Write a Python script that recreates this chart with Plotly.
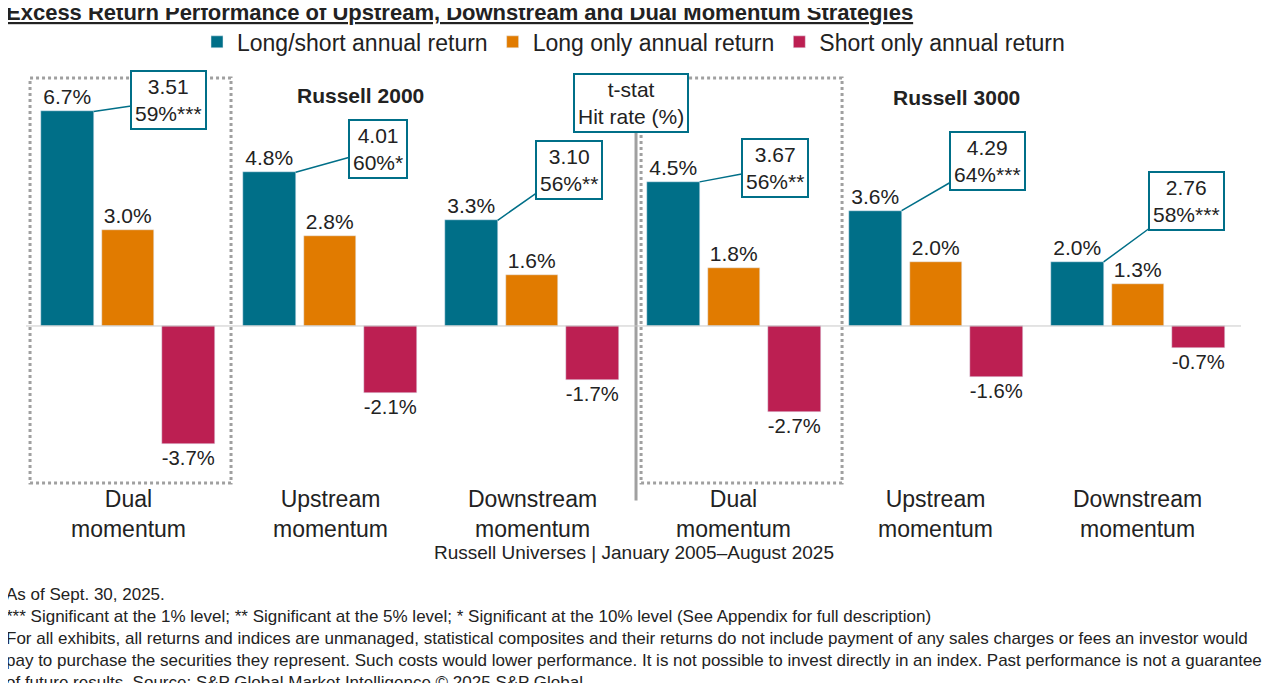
import plotly.graph_objects as go

# === DATA ===
groups = ["Dual<br>momentum", "Upstream<br>momentum", "Downstream<br>momentum",
          "Dual<br>momentum", "Upstream<br>momentum", "Downstream<br>momentum"]
long_short = [6.7, 4.8, 3.3, 4.5, 3.6, 2.0]
long_only = [3.0, 2.8, 1.6, 1.8, 2.0, 1.3]
short_only = [-3.7, -2.1, -1.7, -2.7, -1.6, -0.7]
tstat = ["3.51", "4.01", "3.10", "3.67", "4.29", "2.76"]
hit_rate = ["59%***", "60%*", "56%**", "56%**", "64%***", "58%***"]

TEAL, ORANGE, RED = "#006F88", "#E17B00", "#BC1F52"
FONT = "Liberation Sans"
pos = list(range(len(groups)))

fig = go.Figure()
series = [("Long/short annual return", long_short, TEAL, -0.3),
          ("Long only annual return", long_only, ORANGE, 0.0),
          ("Short only annual return", short_only, RED, 0.3)]
for name, vals, col, off in series:
    fig.add_trace(go.Bar(
        x=[p + off for p in pos], y=vals, width=0.26, name=name, marker_color=col,
        text=[f"{v:.1f}%" for v in vals], textposition="outside",
        textfont=dict(size=21, color="#222"), cliponaxis=False))

ann = []
# t-stat boxes with connector lines
offsets = [(75, -11), (82, -23), (71, -50), (75, -14), (86, -50), (83, -61)]
for p, v, t, h, (ax, ay) in zip(pos, long_short, tstat, hit_rate, offsets):
    ann.append(dict(x=p - 0.17, y=v, ax=ax, ay=ay, text=f"{t}<br>{h}",
                    showarrow=True, arrowhead=0, arrowcolor=TEAL, arrowwidth=1.5,
                    bordercolor=TEAL, borderwidth=2, borderpad=3, bgcolor="white",
                    font=dict(size=21, color="#222"), align="center"))
# category labels
for p, g in zip(pos, groups):
    ann.append(dict(x=p, y=0.01, xref="x", yref="paper", text=g, showarrow=False,
                    yanchor="top", font=dict(size=23, color="#222")))
ann += [
    dict(x=1.15, y=7.2, text="<b>Russell 2000</b>", showarrow=False, font=dict(size=21, color="#222")),
    dict(x=4.1, y=7.15, text="<b>Russell 3000</b>", showarrow=False, font=dict(size=21, color="#222")),
    dict(x=2.49, y=6.95, text="t-stat<br>Hit rate (%)", showarrow=False, bordercolor=TEAL,
         borderwidth=2, borderpad=3, bgcolor="white", font=dict(size=21, color="#222")),
    dict(x=0.5, y=-0.186, xref="paper", yref="paper", text="Russell Universes | January 2005–August 2025",
         showarrow=False, font=dict(size=19, color="#222")),
]
foot = ("As of Sept. 30, 2025.<br>"
        "*** Significant at the 1% level; ** Significant at the 5% level; * Significant at the 10% level (See Appendix for full description)<br>"
        "For all exhibits, all returns and indices are unmanaged, statistical composites and their returns do not include payment of any sales charges or fees an investor would<br>"
        "pay to purchase the securities they represent. Such costs would lower performance. It is not possible to invest directly in an index. Past performance is not a guarantee<br>"
        "of future results. Source: S&P Global Market Intelligence © 2025 S&P Global")
ann.append(dict(x=-0.018, y=-0.23, xref="paper", yref="paper", xanchor="left", yanchor="top",
                text=foot, showarrow=False, align="left", font=dict(size=17, color="#222")))
ann.append(dict(x=-0.018, y=1.145, xref="paper", yref="paper", xanchor="left", yanchor="middle",
                text="<b><u>Excess Return Performance of Upstream, Downstream and Dual Momentum Strategies</u></b>",
                showarrow=False, font=dict(size=22, color="#222")))

shapes = [dict(type="rect", xref="x", yref="paper", x0=x0, x1=x0 + 0.995, y0=0.012, y1=0.988,
               line=dict(color="#a0a0a0", width=3, dash="dot")) for x0 in (-0.485, 2.54)]
shapes.append(dict(type="line", xref="x", yref="paper", x0=2.515, x1=2.515, y0=-0.03, y1=1.0,
                   line=dict(color="#a0a0a0", width=3)))
shapes.append(dict(type="line", xref="paper", yref="y", x0=0, x1=1, y0=0, y1=0,
                   line=dict(color="#c8c8c8", width=1)))

fig.update_layout(
    width=1280, height=683, margin=dict(l=18, r=47, t=65, b=203),
    plot_bgcolor="white", paper_bgcolor="white", font=dict(family=FONT, color="#222"),
    barmode="overlay", bargap=0,
    legend=dict(orientation="h", x=0.5, xanchor="center", y=1.075, yanchor="middle",
                font=dict(size=23), itemwidth=30, traceorder="normal"),
    xaxis=dict(range=[-0.505, 5.51], visible=False),
    yaxis=dict(range=[-5.06, 7.9], visible=False),
    annotations=ann, shapes=shapes,
)
fig.write_html("out.html")
